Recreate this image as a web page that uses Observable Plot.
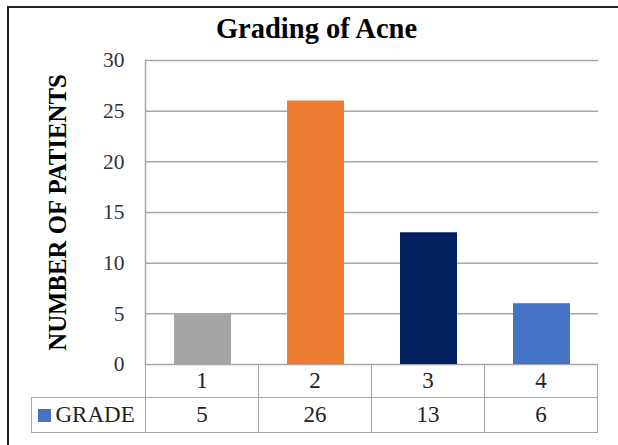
<!DOCTYPE html>
<html>
<head>
<meta charset="utf-8">
<script src="https://cdn.jsdelivr.net/npm/d3@7"></script>
<script src="https://cdn.jsdelivr.net/npm/@observablehq/plot@0.6"></script>
<style>
  html, body { margin: 0; padding: 0; background: #fff; width: 618px; height: 445px; overflow: hidden; }
  #frame { position: absolute; left: 7px; top: 6px; width: 640px; height: 460px; border-left: 2px solid #222; border-top: 2px solid #222; box-sizing: border-box; }
  #title { position: absolute; left: 8px; width: 617px; top: 15px; text-align: center; font-family: "Liberation Serif", serif; font-weight: bold; font-size: 28.5px; line-height: 1; color: #000; }
  #chart { position: absolute; left: 0; top: 0; }
  #chart svg, #chart svg text { font-family: "Liberation Serif", serif !important; }
  #chart svg g[aria-label="y-axis tick label"] text { font-size: 21.5px; }
  #chart svg g[aria-label="y-axis label"] text { font-weight: bold; font-size: 24.8px; fill: #000; }
  #tbl { position: absolute; left: 30.5px; top: 363.5px; border-collapse: collapse; table-layout: fixed; }
  #tbl td { border: 1.5px solid #a6a6a6; text-align: center; padding: 0; font-family: "Liberation Serif", serif; font-size: 23px; line-height: 1; color: #222; }
  #tbl tr.r1 td { height: 32px; }
  #tbl tr.r2 td { height: 34px; }
  #tbl td.empty { border-top: none; border-left: none; }
  #tbl td.leg { text-align: left; padding-left: 6px; white-space: nowrap; }
  .sw { display: inline-block; width: 13px; height: 13px; margin-right: 5px; vertical-align: 0px; }
</style>
</head>
<body>
<div id="frame"></div>
<div id="title"></div>
<div id="chart"></div>
<table id="tbl"></table>
<script>
const titleText = "Grading of Acne";
const yLabel = "NUMBER OF PATIENTS";
const seriesName = "GRADE";
const grades = ["1", "2", "3", "4"];
const patients = [5, 26, 13, 6];
const barColors = ["#a5a5a5", "#ed7d31", "#002060", "#4472c4"];
const legendColor = "#4472c4";
const yTicks = [0, 5, 10, 15, 20, 25, 30];

document.getElementById("title").textContent = titleText;

const data = grades.map((g, i) => ({grade: g, value: patients[i]}));

const W = 618, H = 445;
const mL = 145, mR = 20, mT = 60, mB = 81;

const chart = Plot.plot({
  width: W,
  height: H,
  marginLeft: mL,
  marginRight: mR,
  marginTop: mT,
  marginBottom: mB,
  style: {fontFamily: "Liberation Serif, serif", fontSize: "21.5px", color: "#333", background: "transparent", overflow: "visible"},
  x: {domain: grades, paddingInner: 0.5, paddingOuter: 0.25, axis: null},
  y: {domain: [0, 30], ticks: yTicks},
  color: {domain: grades, range: barColors},
  marks: [
    Plot.ruleY(yTicks, {stroke: "#a6a6a6", strokeWidth: 1.5, strokeOpacity: 1}),
    Plot.frame({anchor: "left", stroke: "#a6a6a6", strokeWidth: 1.5}),
    Plot.barY(data, {x: "grade", y: "value", fill: "grade"}),
    Plot.axisY(yTicks, {tickSize: 0, tickPadding: 21, label: yLabel, labelAnchor: "center", labelArrow: "none", labelOffset: 97, fill: "#333"})
  ]
});
document.getElementById("chart").appendChild(chart);

// data table below the plot, aligned to the band scale
const xs = chart.scale("x");
const step = xs.step;
const tbl = document.getElementById("tbl");
const cg = document.createElement("colgroup");
const firstW = mL - 30.5;
[firstW, ...grades.map(() => step)].forEach(w => {
  const c = document.createElement("col");
  c.style.width = w + "px";
  cg.appendChild(c);
});
tbl.appendChild(cg);
const r1 = document.createElement("tr"); r1.className = "r1";
const e = document.createElement("td"); e.className = "empty"; r1.appendChild(e);
grades.forEach(g => { const td = document.createElement("td"); td.textContent = g; r1.appendChild(td); });
tbl.appendChild(r1);
const r2 = document.createElement("tr"); r2.className = "r2";
const lg = document.createElement("td"); lg.className = "leg";
const sw = document.createElement("span"); sw.className = "sw"; sw.style.background = legendColor;
lg.appendChild(sw); lg.appendChild(document.createTextNode(seriesName));
r2.appendChild(lg);
patients.forEach(v => { const td = document.createElement("td"); td.textContent = String(v); r2.appendChild(td); });
tbl.appendChild(r2);
</script>
</body>
</html>
